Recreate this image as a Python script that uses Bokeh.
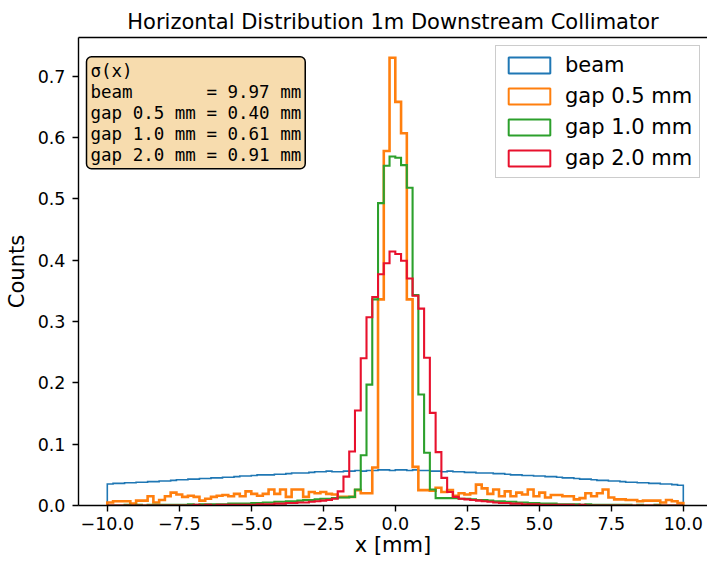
import numpy as np
from bokeh.plotting import figure
from bokeh.models import Range1d, FixedTicker, Legend, LegendItem, Label, LinearAxis
from bokeh.embed import file_html
from bokeh.resources import INLINE

# ---------------- data ----------------
bin_lo, bin_hi, n_bins = -10.0, 10.0, 100

beam = [0.035, 0.036, 0.036, 0.037, 0.037, 0.038, 0.038, 0.039, 0.039, 0.040,
        0.040, 0.041, 0.042, 0.042, 0.043, 0.043, 0.044, 0.044, 0.045, 0.045,
        0.046, 0.046, 0.047, 0.048, 0.048, 0.049, 0.050, 0.050, 0.050, 0.051,
        0.051, 0.052, 0.053, 0.053, 0.053, 0.054, 0.055, 0.055, 0.056, 0.055,
        0.055, 0.056, 0.056, 0.057, 0.056, 0.057, 0.057, 0.058, 0.058, 0.057,
        0.058, 0.058, 0.057, 0.058, 0.057, 0.057, 0.056, 0.056, 0.055, 0.056,
        0.055, 0.055, 0.054, 0.054, 0.053, 0.053, 0.053, 0.052, 0.052, 0.051,
        0.050, 0.050, 0.049, 0.049, 0.048, 0.048, 0.047, 0.047, 0.046, 0.045,
        0.045, 0.044, 0.043, 0.043, 0.042, 0.041, 0.041, 0.040, 0.040, 0.039,
        0.038, 0.038, 0.037, 0.037, 0.036, 0.036, 0.035, 0.035, 0.034, 0.033]

gap05 = [0.005, 0.007, 0.007, 0.007, 0.003, 0.008, 0.008, 0.015, 0.005, 0.009,
         0.015, 0.021, 0.018, 0.014, 0.016, 0.014, 0.008, 0.011, 0.014, 0.016,
         0.017, 0.015, 0.019, 0.015, 0.023, 0.019, 0.016, 0.019, 0.026, 0.019,
         0.026, 0.014, 0.026, 0.026, 0.014, 0.022, 0.020, 0.022, 0.019, 0.018,
         0.014, 0.014, 0.014, 0.025, 0.020, 0.020, 0.062, 0.336, 0.578, 0.730,
         0.658, 0.607, 0.336, 0.063, 0.025, 0.025, 0.024, 0.029, 0.022, 0.025,
         0.016, 0.020, 0.018, 0.020, 0.034, 0.028, 0.019, 0.026, 0.015, 0.023,
         0.015, 0.021, 0.018, 0.026, 0.015, 0.021, 0.013, 0.017, 0.017, 0.015,
         0.015, 0.010, 0.012, 0.020, 0.015, 0.020, 0.026, 0.013, 0.010, 0.010,
         0.009, 0.009, 0.007, 0.008, 0.008, 0.008, 0.005, 0.009, 0.007, 0.004]

gap10 = [0.000, 0.000, 0.000, 0.001, 0.000, 0.001, 0.000, 0.001, 0.001, 0.001,
         0.001, 0.001, 0.001, 0.001, 0.002, 0.001, 0.002, 0.002, 0.002, 0.002,
         0.002, 0.003, 0.003, 0.003, 0.003, 0.004, 0.004, 0.005, 0.005, 0.006,
         0.006, 0.007, 0.007, 0.008, 0.009, 0.009, 0.010, 0.011, 0.011, 0.012,
         0.013, 0.013, 0.014, 0.026, 0.082, 0.197, 0.336, 0.493, 0.554, 0.569,
         0.567, 0.555, 0.518, 0.343, 0.181, 0.086, 0.026, 0.012, 0.012, 0.012,
         0.012, 0.011, 0.011, 0.010, 0.009, 0.009, 0.008, 0.007, 0.007, 0.006,
         0.006, 0.005, 0.005, 0.004, 0.004, 0.003, 0.003, 0.003, 0.002, 0.002,
         0.002, 0.002, 0.001, 0.002, 0.001, 0.001, 0.001, 0.001, 0.001, 0.001,
         0.001, 0.000, 0.001, 0.000, 0.000, 0.001, 0.000, 0.000, 0.000, 0.000]

gap20 = [0.000, 0.000, 0.000, 0.000, 0.000, 0.000, 0.000, 0.000, 0.000, 0.000,
         0.000, 0.000, 0.000, 0.000, 0.000, 0.001, 0.000, 0.001, 0.000, 0.001,
         0.001, 0.001, 0.001, 0.001, 0.001, 0.001, 0.002, 0.002, 0.002, 0.003,
         0.003, 0.004, 0.004, 0.005, 0.005, 0.006, 0.007, 0.008, 0.009, 0.011,
         0.023, 0.047, 0.088, 0.155, 0.240, 0.307, 0.340, 0.377, 0.395, 0.414,
         0.410, 0.399, 0.370, 0.342, 0.321, 0.241, 0.151, 0.087, 0.045, 0.022,
         0.014, 0.011, 0.010, 0.009, 0.008, 0.007, 0.006, 0.005, 0.004, 0.004,
         0.003, 0.003, 0.002, 0.002, 0.002, 0.001, 0.001, 0.001, 0.001, 0.001,
         0.001, 0.000, 0.001, 0.000, 0.000, 0.000, 0.000, 0.000, 0.000, 0.000,
         0.000, 0.000, 0.000, 0.000, 0.000, 0.000, 0.000, 0.000, 0.000, 0.000]

series_names = ["beam", "gap 0.5 mm", "gap 1.0 mm", "gap 2.0 mm"]
series_values = [beam, gap05, gap10, gap20]
sigma_labels = ["beam", "gap 0.5 mm", "gap 1.0 mm", "gap 2.0 mm"]
sigma_values = [9.97, 0.40, 0.61, 0.91]

x_ticks = [-10, -7.5, -5, -2.5, 0, 2.5, 5, 7.5, 10]
x_tick_labels = ["\u221210.0", "\u22127.5", "\u22125.0", "\u22122.5", "0.0", "2.5", "5.0", "7.5", "10.0"]
y_ticks = [0.0, 0.1, 0.2, 0.3, 0.4, 0.5, 0.6, 0.7]
y_tick_labels = ["0.0", "0.1", "0.2", "0.3", "0.4", "0.5", "0.6", "0.7"]

title_text = "Horizontal Distribution 1m Downstream Collimator"
x_label = "x [mm]"
y_label = "Counts"

# ---------------- style ----------------
colors = ["#1f77b4", "#ff7f0e", "#2ca02c", "#e8112d"]
widths = [1.6, 2.6, 2.1, 2.1]
FONT = "DejaVu Sans"
MONO = "DejaVu Sans Mono"
TICK_FS = "17.5px"
LABEL_FS = "21px"

p = figure(width=707, height=562,
           x_range=Range1d(-11.0, 10.84), y_range=Range1d(0.0, 0.763),
           output_backend="svg", toolbar_location=None,
           min_border_left=78, min_border_right=0, min_border_top=37, min_border_bottom=57)
p.outline_line_color = None
p.xgrid.visible = False
p.ygrid.visible = False
p.background_fill_color = "white"
p.border_fill_color = "white"

p.title.text = title_text
p.title.text_font = FONT
p.title.text_font_size = "21px"
p.title.text_font_style = "normal"
p.title.text_color = "black"
p.title.align = "center"
p.title.standoff = 8

edges = np.linspace(bin_lo, bin_hi, n_bins + 1)


def step_path(vals):
    xs = [edges[0]]
    ys = [0.0]
    for i, v in enumerate(vals):
        xs += [edges[i], edges[i + 1]]
        ys += [v, v]
    xs.append(edges[-1])
    ys.append(0.0)
    return xs, ys


items = []
for name, vals, c, lw in zip(series_names, series_values, colors, widths):
    xs, ys = step_path(vals)
    p.line(xs, ys, line_color=c, line_width=lw, line_join="miter")
    dummy = p.quad(left=[np.nan], right=[np.nan], top=[np.nan], bottom=[np.nan],
                   fill_color=None, line_color=c, line_width=2)
    items.append(LegendItem(label=name, renderers=[dummy]))

# axes
for ax in (p.xaxis[0], p.yaxis[0]):
    ax.axis_line_color = "black"
    ax.axis_line_width = 1.4
    ax.major_tick_line_color = "black"
    ax.major_tick_line_width = 1.4
    ax.major_tick_out = 6
    ax.major_tick_in = 0
    ax.minor_tick_out = 0
    ax.minor_tick_in = 0
    ax.major_label_text_font = FONT
    ax.major_label_text_font_size = TICK_FS
    ax.major_label_text_color = "black"
    ax.axis_label_text_font = FONT
    ax.axis_label_text_font_size = LABEL_FS
    ax.axis_label_text_font_style = "normal"
    ax.axis_label_text_color = "black"

p.xaxis[0].ticker = FixedTicker(ticks=x_ticks)
p.xaxis[0].major_label_overrides = {t: l for t, l in zip(x_ticks, x_tick_labels)}
p.xaxis[0].major_label_standoff = 5
p.xaxis[0].axis_label = x_label
p.xaxis[0].axis_label_standoff = 0
p.yaxis[0].ticker = FixedTicker(ticks=y_ticks)
p.yaxis[0].major_label_overrides = {t: l for t, l in zip(y_ticks, y_tick_labels)}
p.yaxis[0].major_label_standoff = 7
p.yaxis[0].axis_label = y_label
p.yaxis[0].axis_label_standoff = 6

top_axis = LinearAxis(ticker=FixedTicker(ticks=[]), axis_line_color="black", axis_line_width=1.4,
                      major_tick_out=0, major_tick_in=0, minor_tick_out=0, minor_tick_in=0,
                      major_label_text_font_size="0px", major_label_standoff=0)
p.add_layout(top_axis, "above")

# stats box
width_col = max(len(n) for n in sigma_labels)
lines = ["\u03c3(x)"] + [n.ljust(width_col).replace(" ", "\u00a0") + "\u00a0=\u00a0%.2f\u00a0mm" % s
                         for n, s in zip(sigma_labels, sigma_values)]
p.add_layout(Label(x=-10.722, y=0.7317, x_units="data", y_units="data", text="\n".join(lines),
                   text_font=MONO, text_font_size="17.5px", text_color="black",
                   text_align="left", text_baseline="top", text_line_height=1.05,
                   background_fill_color="#f7dcae", background_fill_alpha=1.0,
                   border_line_color="black", border_line_width=1.5,
                   padding=4, border_radius=5))

legend = Legend(items=items, location=(417, 327), padding=7, spacing=7,
                glyph_width=52, glyph_height=20, label_standoff=10,
                label_text_font=FONT, label_text_font_size="21px", label_text_color="black",
                border_line_color="#cccccc", border_line_width=1, border_line_alpha=1.0,
                background_fill_color="white", background_fill_alpha=0.8)
p.add_layout(legend)

open("out.html", "w").write(file_html(p, INLINE))
